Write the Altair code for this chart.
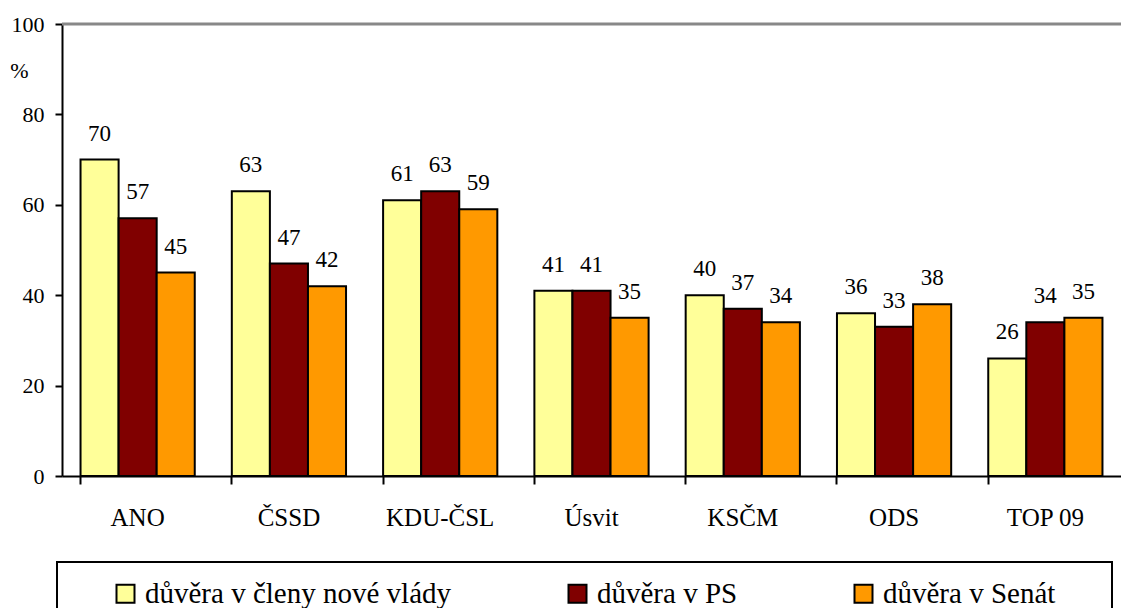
import altair as alt
import pandas as pd

parties = ["ANO", "ČSSD", "KDU-ČSL", "Úsvit", "KSČM", "ODS", "TOP 09"]
series = ["důvěra v členy nové vlády", "důvěra v PS", "důvěra v Senát"]
vlada = [70, 63, 61, 41, 40, 36, 26]
ps = [57, 47, 63, 41, 37, 33, 34]
senat = [45, 42, 59, 35, 34, 38, 35]
colors = ["#FFFF99", "#800000", "#FF9900"]
y_ticks = [0, 20, 40, 60, 80, 100]

rows = []
for vals, s in zip([vlada, ps, senat], series):
    for p, v in zip(parties, vals):
        rows.append({"strana": p, "serie": s, "hodnota": v})
df = pd.DataFrame(rows)

FONT = "Liberation Serif"

x = alt.X("strana:N", sort=parties, title=None,
          scale=alt.Scale(paddingInner=0.245, paddingOuter=0.1225),
          axis=alt.Axis(labelAngle=0, labelFontSize=25, labelFont=FONT, labelColor="black",
                        domainColor="black", domainWidth=2, tickColor="black", tickWidth=2,
                        tickSize=8, bandPosition=0, labelBaseline="alphabetic", labelPadding=41))
xo = alt.XOffset("serie:N", sort=series, scale=alt.Scale(paddingInner=0, paddingOuter=0))
y = alt.Y("hodnota:Q", scale=alt.Scale(domain=[0, 100], nice=False),
          axis=alt.Axis(values=y_ticks, title="%", titleAngle=0, titleX=-43, titleY=46,
                        titleAlign="center", titleBaseline="middle", titleFont=FONT,
                        titleFontSize=22, titleFontWeight="normal", titleColor="black",
                        labelFontSize=22, labelFont=FONT, labelColor="black",
                        domainColor="black", domainWidth=2, tickColor="black", tickWidth=2,
                        tickSize=7, labelPadding=11, grid=False))
color = alt.Color("serie:N", sort=series,
                  scale=alt.Scale(domain=series, range=colors),
                  legend=alt.Legend(title=None, orient="none", legendX=49, legendY=555,
                                    direction="horizontal", columns=3, columnPadding=111,
                                    symbolType="square", symbolSize=324,
                                    symbolStrokeColor="black", symbolStrokeWidth=2,
                                    labelFont=FONT, labelFontSize=29, labelColor="black",
                                    labelOffset=5, labelLimit=500, padding=0))

base = alt.Chart(df)
bars = base.mark_bar(stroke="black", strokeWidth=2).encode(x=x, xOffset=xo, y=y, color=color)
labels = base.mark_text(baseline="alphabetic", dy=-19, font=FONT, fontSize=23, color="black").encode(
    x=x, xOffset=xo, y=y, text="hodnota:Q")
top_line = alt.Chart(pd.DataFrame({"v": [100]})).mark_rule(color="#888888", strokeWidth=3).encode(
    y=alt.Y("v:Q"))
box = alt.Chart(pd.DataFrame({"k": [0]})).mark_rect(fillOpacity=0, stroke="black", strokeWidth=2).encode(
    x=alt.value(-5), x2=alt.value(1050), y=alt.value(538), y2=alt.value(660))

chart = alt.layer(top_line, bars, labels, box).properties(
    width=1059, height=452,
    background="white",
    autosize=alt.AutoSizeParams(type="none"),
    padding={"left": 54, "top": 16, "right": 0, "bottom": 132},
).configure_view(stroke=None)

chart.save("out.html", embed_options={"renderer": "svg", "actions": False})
